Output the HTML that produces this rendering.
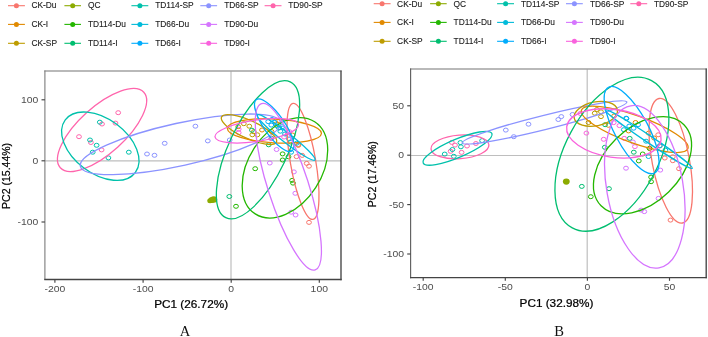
<!DOCTYPE html>
<html><head><meta charset="utf-8"><title>PCA</title>
<style>
html,body{margin:0;padding:0;background:#fff;}
body{width:708px;height:337px;overflow:hidden;font-family:"Liberation Sans",sans-serif;}
svg{display:block;will-change:transform;opacity:0.999;}
text{font-family:"Liberation Sans",sans-serif;}
.ser{font-family:"Liberation Serif",serif;}
</style></head><body>
<svg width="708" height="337" viewBox="0 0 708 337">
<rect width="708" height="337" fill="#ffffff"/>

<line x1="8.0" y1="5.7" x2="24.9" y2="5.7" stroke="#F8766D" stroke-width="1.1"/>
<circle cx="16.4" cy="5.7" r="2.5" fill="#F8766D"/>
<text x="31.4" y="8.4" font-size="8.4" fill="#1a1a1a" stroke="#1a1a1a" stroke-width="0.1">CK-Du</text>
<line x1="8.0" y1="24.4" x2="24.9" y2="24.4" stroke="#E18A00" stroke-width="1.1"/>
<circle cx="16.4" cy="24.4" r="2.5" fill="#E18A00"/>
<text x="31.4" y="27.1" font-size="8.4" fill="#1a1a1a" stroke="#1a1a1a" stroke-width="0.1">CK-I</text>
<line x1="8.0" y1="43.3" x2="24.9" y2="43.3" stroke="#BE9C00" stroke-width="1.1"/>
<circle cx="16.4" cy="43.3" r="2.5" fill="#BE9C00"/>
<text x="31.4" y="46.0" font-size="8.4" fill="#1a1a1a" stroke="#1a1a1a" stroke-width="0.1">CK-SP</text>
<line x1="64.4" y1="5.7" x2="81.0" y2="5.7" stroke="#8CAB00" stroke-width="1.1"/>
<circle cx="72.7" cy="5.7" r="2.5" fill="#8CAB00"/>
<text x="87.9" y="8.4" font-size="8.4" fill="#1a1a1a" stroke="#1a1a1a" stroke-width="0.1">QC</text>
<line x1="64.4" y1="24.4" x2="81.0" y2="24.4" stroke="#24B700" stroke-width="1.1"/>
<circle cx="72.7" cy="24.4" r="2.5" fill="#24B700"/>
<text x="87.9" y="27.1" font-size="8.4" fill="#1a1a1a" stroke="#1a1a1a" stroke-width="0.1">TD114-Du</text>
<line x1="64.4" y1="43.3" x2="81.0" y2="43.3" stroke="#00BE70" stroke-width="1.1"/>
<circle cx="72.7" cy="43.3" r="2.5" fill="#00BE70"/>
<text x="87.9" y="46.0" font-size="8.4" fill="#1a1a1a" stroke="#1a1a1a" stroke-width="0.1">TD114-I</text>
<line x1="131.4" y1="5.7" x2="148.3" y2="5.7" stroke="#00C1AB" stroke-width="1.1"/>
<circle cx="139.9" cy="5.7" r="2.5" fill="#00C1AB"/>
<text x="155.2" y="8.4" font-size="8.4" fill="#1a1a1a" stroke="#1a1a1a" stroke-width="0.1">TD114-SP</text>
<line x1="131.4" y1="24.4" x2="148.3" y2="24.4" stroke="#00BBDA" stroke-width="1.1"/>
<circle cx="139.9" cy="24.4" r="2.5" fill="#00BBDA"/>
<text x="155.2" y="27.1" font-size="8.4" fill="#1a1a1a" stroke="#1a1a1a" stroke-width="0.1">TD66-Du</text>
<line x1="131.4" y1="43.3" x2="148.3" y2="43.3" stroke="#00ACFC" stroke-width="1.1"/>
<circle cx="139.9" cy="43.3" r="2.5" fill="#00ACFC"/>
<text x="155.2" y="46.0" font-size="8.4" fill="#1a1a1a" stroke="#1a1a1a" stroke-width="0.1">TD66-I</text>
<line x1="200.3" y1="5.7" x2="217.1" y2="5.7" stroke="#8B93FF" stroke-width="1.1"/>
<circle cx="208.7" cy="5.7" r="2.5" fill="#8B93FF"/>
<text x="224.2" y="8.4" font-size="8.4" fill="#1a1a1a" stroke="#1a1a1a" stroke-width="0.1">TD66-SP</text>
<line x1="200.3" y1="24.4" x2="217.1" y2="24.4" stroke="#D575FE" stroke-width="1.1"/>
<circle cx="208.7" cy="24.4" r="2.5" fill="#D575FE"/>
<text x="224.2" y="27.1" font-size="8.4" fill="#1a1a1a" stroke="#1a1a1a" stroke-width="0.1">TD90-Du</text>
<line x1="200.3" y1="43.3" x2="217.1" y2="43.3" stroke="#F962DD" stroke-width="1.1"/>
<circle cx="208.7" cy="43.3" r="2.5" fill="#F962DD"/>
<text x="224.2" y="46.0" font-size="8.4" fill="#1a1a1a" stroke="#1a1a1a" stroke-width="0.1">TD90-I</text>
<line x1="264.6" y1="5.7" x2="281.5" y2="5.7" stroke="#FF65AC" stroke-width="1.1"/>
<circle cx="273.1" cy="5.7" r="2.5" fill="#FF65AC"/>
<text x="288.2" y="8.4" font-size="8.4" fill="#1a1a1a" stroke="#1a1a1a" stroke-width="0.1">TD90-SP</text>
<line x1="373.7" y1="3.7" x2="390.6" y2="3.7" stroke="#F8766D" stroke-width="1.1"/>
<circle cx="382.1" cy="3.7" r="2.5" fill="#F8766D"/>
<text x="397.1" y="6.8" font-size="8.4" fill="#1a1a1a" stroke="#1a1a1a" stroke-width="0.1">CK-Du</text>
<line x1="373.7" y1="22.4" x2="390.6" y2="22.4" stroke="#E18A00" stroke-width="1.1"/>
<circle cx="382.1" cy="22.4" r="2.5" fill="#E18A00"/>
<text x="397.1" y="25.4" font-size="8.4" fill="#1a1a1a" stroke="#1a1a1a" stroke-width="0.1">CK-I</text>
<line x1="373.7" y1="41.3" x2="390.6" y2="41.3" stroke="#BE9C00" stroke-width="1.1"/>
<circle cx="382.1" cy="41.3" r="2.5" fill="#BE9C00"/>
<text x="397.1" y="44.3" font-size="8.4" fill="#1a1a1a" stroke="#1a1a1a" stroke-width="0.1">CK-SP</text>
<line x1="430.1" y1="3.7" x2="446.7" y2="3.7" stroke="#8CAB00" stroke-width="1.1"/>
<circle cx="438.4" cy="3.7" r="2.5" fill="#8CAB00"/>
<text x="453.6" y="6.8" font-size="8.4" fill="#1a1a1a" stroke="#1a1a1a" stroke-width="0.1">QC</text>
<line x1="430.1" y1="22.4" x2="446.7" y2="22.4" stroke="#24B700" stroke-width="1.1"/>
<circle cx="438.4" cy="22.4" r="2.5" fill="#24B700"/>
<text x="453.6" y="25.4" font-size="8.4" fill="#1a1a1a" stroke="#1a1a1a" stroke-width="0.1">TD114-Du</text>
<line x1="430.1" y1="41.3" x2="446.7" y2="41.3" stroke="#00BE70" stroke-width="1.1"/>
<circle cx="438.4" cy="41.3" r="2.5" fill="#00BE70"/>
<text x="453.6" y="44.3" font-size="8.4" fill="#1a1a1a" stroke="#1a1a1a" stroke-width="0.1">TD114-I</text>
<line x1="497.1" y1="3.7" x2="514.0" y2="3.7" stroke="#00C1AB" stroke-width="1.1"/>
<circle cx="505.6" cy="3.7" r="2.5" fill="#00C1AB"/>
<text x="520.9" y="6.8" font-size="8.4" fill="#1a1a1a" stroke="#1a1a1a" stroke-width="0.1">TD114-SP</text>
<line x1="497.1" y1="22.4" x2="514.0" y2="22.4" stroke="#00BBDA" stroke-width="1.1"/>
<circle cx="505.6" cy="22.4" r="2.5" fill="#00BBDA"/>
<text x="520.9" y="25.4" font-size="8.4" fill="#1a1a1a" stroke="#1a1a1a" stroke-width="0.1">TD66-Du</text>
<line x1="497.1" y1="41.3" x2="514.0" y2="41.3" stroke="#00ACFC" stroke-width="1.1"/>
<circle cx="505.6" cy="41.3" r="2.5" fill="#00ACFC"/>
<text x="520.9" y="44.3" font-size="8.4" fill="#1a1a1a" stroke="#1a1a1a" stroke-width="0.1">TD66-I</text>
<line x1="566.0" y1="3.7" x2="582.8" y2="3.7" stroke="#8B93FF" stroke-width="1.1"/>
<circle cx="574.4" cy="3.7" r="2.5" fill="#8B93FF"/>
<text x="589.9" y="6.8" font-size="8.4" fill="#1a1a1a" stroke="#1a1a1a" stroke-width="0.1">TD66-SP</text>
<line x1="566.0" y1="22.4" x2="582.8" y2="22.4" stroke="#D575FE" stroke-width="1.1"/>
<circle cx="574.4" cy="22.4" r="2.5" fill="#D575FE"/>
<text x="589.9" y="25.4" font-size="8.4" fill="#1a1a1a" stroke="#1a1a1a" stroke-width="0.1">TD90-Du</text>
<line x1="566.0" y1="41.3" x2="582.8" y2="41.3" stroke="#F962DD" stroke-width="1.1"/>
<circle cx="574.4" cy="41.3" r="2.5" fill="#F962DD"/>
<text x="589.9" y="44.3" font-size="8.4" fill="#1a1a1a" stroke="#1a1a1a" stroke-width="0.1">TD90-I</text>
<line x1="630.3" y1="3.7" x2="647.2" y2="3.7" stroke="#FF65AC" stroke-width="1.1"/>
<circle cx="638.8" cy="3.7" r="2.5" fill="#FF65AC"/>
<text x="653.9" y="6.8" font-size="8.4" fill="#1a1a1a" stroke="#1a1a1a" stroke-width="0.1">TD90-SP</text>
<clipPath id="clipA"><rect x="44.9" y="71.0" width="296.1" height="208.5"/></clipPath>
<g clip-path="url(#clipA)">
<line x1="44.9" y1="160.9" x2="341.0" y2="160.9" stroke="#bebebe" stroke-width="1.2"/>
<line x1="231.0" y1="71.0" x2="231.0" y2="279.5" stroke="#bebebe" stroke-width="1.2"/>
<ellipse cx="118.2" cy="112.7" rx="2.4" ry="2.0" fill="none" stroke="#FF65AC" stroke-width="1.0"/>
<ellipse cx="115.5" cy="123.1" rx="2.4" ry="2.0" fill="none" stroke="#FF65AC" stroke-width="1.0"/>
<ellipse cx="102.0" cy="124.0" rx="2.4" ry="2.0" fill="none" stroke="#FF65AC" stroke-width="1.0"/>
<ellipse cx="79.0" cy="136.7" rx="2.4" ry="2.0" fill="none" stroke="#FF65AC" stroke-width="1.0"/>
<ellipse cx="90.9" cy="142.5" rx="2.4" ry="2.0" fill="none" stroke="#FF65AC" stroke-width="1.0"/>
<ellipse cx="101.6" cy="149.9" rx="2.4" ry="2.0" fill="none" stroke="#FF65AC" stroke-width="1.0"/>
<ellipse cx="99.8" cy="122.2" rx="2.4" ry="2.0" fill="none" stroke="#00C1AB" stroke-width="1.0"/>
<ellipse cx="90.0" cy="140.0" rx="2.4" ry="2.0" fill="none" stroke="#00C1AB" stroke-width="1.0"/>
<ellipse cx="96.6" cy="145.3" rx="2.4" ry="2.0" fill="none" stroke="#00C1AB" stroke-width="1.0"/>
<ellipse cx="92.7" cy="152.2" rx="2.4" ry="2.0" fill="none" stroke="#00C1AB" stroke-width="1.0"/>
<ellipse cx="108.4" cy="157.9" rx="2.4" ry="2.0" fill="none" stroke="#00C1AB" stroke-width="1.0"/>
<ellipse cx="128.8" cy="152.2" rx="2.4" ry="2.0" fill="none" stroke="#00C1AB" stroke-width="1.0"/>
<ellipse cx="147.0" cy="154.0" rx="2.4" ry="2.0" fill="none" stroke="#8B93FF" stroke-width="1.0"/>
<ellipse cx="154.5" cy="155.3" rx="2.4" ry="2.0" fill="none" stroke="#8B93FF" stroke-width="1.0"/>
<ellipse cx="164.7" cy="143.3" rx="2.4" ry="2.0" fill="none" stroke="#8B93FF" stroke-width="1.0"/>
<ellipse cx="195.4" cy="126.2" rx="2.4" ry="2.0" fill="none" stroke="#8B93FF" stroke-width="1.0"/>
<ellipse cx="207.8" cy="140.9" rx="2.4" ry="2.0" fill="none" stroke="#8B93FF" stroke-width="1.0"/>
<ellipse cx="229.7" cy="140.0" rx="2.4" ry="2.0" fill="none" stroke="#8B93FF" stroke-width="1.0"/>
<ellipse cx="238.2" cy="126.7" rx="2.4" ry="2.0" fill="none" stroke="#BE9C00" stroke-width="1.0"/>
<ellipse cx="243.8" cy="123.7" rx="2.4" ry="2.0" fill="none" stroke="#BE9C00" stroke-width="1.0"/>
<ellipse cx="249.3" cy="126.2" rx="2.4" ry="2.0" fill="none" stroke="#BE9C00" stroke-width="1.0"/>
<ellipse cx="253.8" cy="131.7" rx="2.4" ry="2.0" fill="none" stroke="#BE9C00" stroke-width="1.0"/>
<ellipse cx="252.3" cy="134.8" rx="2.4" ry="2.0" fill="none" stroke="#BE9C00" stroke-width="1.0"/>
<ellipse cx="257.4" cy="134.8" rx="2.4" ry="2.0" fill="none" stroke="#BE9C00" stroke-width="1.0"/>
<ellipse cx="262.0" cy="130.0" rx="2.4" ry="2.0" fill="none" stroke="#E18A00" stroke-width="1.0"/>
<ellipse cx="271.5" cy="131.5" rx="2.4" ry="2.0" fill="none" stroke="#E18A00" stroke-width="1.0"/>
<ellipse cx="279.3" cy="120.6" rx="2.4" ry="2.0" fill="none" stroke="#E18A00" stroke-width="1.0"/>
<ellipse cx="292.5" cy="135.0" rx="2.4" ry="2.0" fill="none" stroke="#E18A00" stroke-width="1.0"/>
<ellipse cx="298.3" cy="145.3" rx="2.4" ry="2.0" fill="none" stroke="#E18A00" stroke-width="1.0"/>
<ellipse cx="276.0" cy="124.0" rx="2.4" ry="2.0" fill="none" stroke="#E18A00" stroke-width="1.0"/>
<ellipse cx="306.7" cy="163.4" rx="2.4" ry="2.0" fill="none" stroke="#F8766D" stroke-width="1.0"/>
<ellipse cx="309.0" cy="166.2" rx="2.4" ry="2.0" fill="none" stroke="#F8766D" stroke-width="1.0"/>
<ellipse cx="309.0" cy="222.4" rx="2.4" ry="2.0" fill="none" stroke="#F8766D" stroke-width="1.0"/>
<ellipse cx="298.0" cy="144.8" rx="2.4" ry="2.0" fill="none" stroke="#F8766D" stroke-width="1.0"/>
<ellipse cx="296.5" cy="156.6" rx="2.4" ry="2.0" fill="none" stroke="#F8766D" stroke-width="1.0"/>
<ellipse cx="302.2" cy="155.4" rx="2.4" ry="2.0" fill="none" stroke="#F8766D" stroke-width="1.0"/>
<ellipse cx="255.2" cy="168.7" rx="2.4" ry="2.0" fill="none" stroke="#24B700" stroke-width="1.0"/>
<ellipse cx="236.0" cy="206.3" rx="2.4" ry="2.0" fill="none" stroke="#24B700" stroke-width="1.0"/>
<ellipse cx="282.6" cy="160.0" rx="2.4" ry="2.0" fill="none" stroke="#24B700" stroke-width="1.0"/>
<ellipse cx="288.5" cy="156.8" rx="2.4" ry="2.0" fill="none" stroke="#24B700" stroke-width="1.0"/>
<ellipse cx="292.1" cy="180.4" rx="2.4" ry="2.0" fill="none" stroke="#24B700" stroke-width="1.0"/>
<ellipse cx="293.0" cy="183.1" rx="2.4" ry="2.0" fill="none" stroke="#24B700" stroke-width="1.0"/>
<ellipse cx="282.6" cy="153.9" rx="2.4" ry="2.0" fill="none" stroke="#24B700" stroke-width="1.0"/>
<ellipse cx="229.3" cy="196.5" rx="2.4" ry="2.0" fill="none" stroke="#00BE70" stroke-width="1.0"/>
<ellipse cx="251.9" cy="130.2" rx="2.4" ry="2.0" fill="none" stroke="#00BE70" stroke-width="1.0"/>
<ellipse cx="271.5" cy="138.2" rx="2.4" ry="2.0" fill="none" stroke="#00BE70" stroke-width="1.0"/>
<ellipse cx="268.7" cy="144.8" rx="2.4" ry="2.0" fill="none" stroke="#00BE70" stroke-width="1.0"/>
<ellipse cx="290.5" cy="142.0" rx="2.4" ry="2.0" fill="none" stroke="#00BE70" stroke-width="1.0"/>
<ellipse cx="279.0" cy="128.0" rx="2.4" ry="2.0" fill="none" stroke="#00BE70" stroke-width="1.0"/>
<ellipse cx="269.8" cy="163.0" rx="2.4" ry="2.0" fill="none" stroke="#D575FE" stroke-width="1.0"/>
<ellipse cx="293.9" cy="171.9" rx="2.4" ry="2.0" fill="none" stroke="#D575FE" stroke-width="1.0"/>
<ellipse cx="295.3" cy="193.3" rx="2.4" ry="2.0" fill="none" stroke="#D575FE" stroke-width="1.0"/>
<ellipse cx="291.2" cy="212.2" rx="2.4" ry="2.0" fill="none" stroke="#D575FE" stroke-width="1.0"/>
<ellipse cx="295.6" cy="215.0" rx="2.4" ry="2.0" fill="none" stroke="#D575FE" stroke-width="1.0"/>
<ellipse cx="276.6" cy="149.5" rx="2.4" ry="2.0" fill="none" stroke="#D575FE" stroke-width="1.0"/>
<ellipse cx="238.7" cy="129.2" rx="2.4" ry="2.0" fill="none" stroke="#F962DD" stroke-width="1.0"/>
<ellipse cx="238.7" cy="132.7" rx="2.4" ry="2.0" fill="none" stroke="#F962DD" stroke-width="1.0"/>
<ellipse cx="284.1" cy="137.0" rx="2.4" ry="2.0" fill="none" stroke="#F962DD" stroke-width="1.0"/>
<ellipse cx="287.6" cy="132.6" rx="2.4" ry="2.0" fill="none" stroke="#F962DD" stroke-width="1.0"/>
<ellipse cx="271.3" cy="138.7" rx="2.4" ry="2.0" fill="none" stroke="#F962DD" stroke-width="1.0"/>
<ellipse cx="289.4" cy="131.7" rx="2.4" ry="2.0" fill="none" stroke="#F962DD" stroke-width="1.0"/>
<ellipse cx="280.3" cy="131.2" rx="2.4" ry="2.0" fill="none" stroke="#00BBDA" stroke-width="1.0"/>
<ellipse cx="282.4" cy="126.6" rx="2.4" ry="2.0" fill="none" stroke="#00BBDA" stroke-width="1.0"/>
<ellipse cx="291.2" cy="152.2" rx="2.4" ry="2.0" fill="none" stroke="#00BBDA" stroke-width="1.0"/>
<ellipse cx="296.5" cy="143.3" rx="2.4" ry="2.0" fill="none" stroke="#00BBDA" stroke-width="1.0"/>
<ellipse cx="285.0" cy="134.0" rx="2.4" ry="2.0" fill="none" stroke="#00BBDA" stroke-width="1.0"/>
<ellipse cx="289.0" cy="139.0" rx="2.4" ry="2.0" fill="none" stroke="#00BBDA" stroke-width="1.0"/>
<ellipse cx="268.2" cy="121.6" rx="2.4" ry="2.0" fill="none" stroke="#00ACFC" stroke-width="1.0"/>
<ellipse cx="271.3" cy="125.1" rx="2.4" ry="2.0" fill="none" stroke="#00ACFC" stroke-width="1.0"/>
<ellipse cx="274.3" cy="122.1" rx="2.4" ry="2.0" fill="none" stroke="#00ACFC" stroke-width="1.0"/>
<ellipse cx="277.0" cy="126.0" rx="2.4" ry="2.0" fill="none" stroke="#00ACFC" stroke-width="1.0"/>
<ellipse cx="272.0" cy="119.5" rx="2.4" ry="2.0" fill="none" stroke="#00ACFC" stroke-width="1.0"/>
<ellipse cx="283.0" cy="128.0" rx="2.4" ry="2.0" fill="none" stroke="#00ACFC" stroke-width="1.0"/>
<ellipse cx="210.0" cy="200.7" rx="2.75" ry="2.50" fill="#8CAB00"/>
<ellipse cx="211.8" cy="200.0" rx="3.30" ry="3.00" fill="#8CAB00"/>
<ellipse cx="213.7" cy="199.5" rx="3.52" ry="3.20" fill="#8CAB00"/>
<ellipse cx="102.05" cy="130.00" rx="56.29" ry="23.19" transform="rotate(-42.14 102.05 130.00)" fill="none" stroke="#FF65AC" stroke-width="1.3"/>
<ellipse cx="100.30" cy="146.20" rx="43.83" ry="27.32" transform="rotate(36.89 100.30 146.20)" fill="none" stroke="#00C1AB" stroke-width="1.3"/>
<ellipse cx="180.50" cy="144.30" rx="102.50" ry="21.30" transform="rotate(-12.40 180.50 144.30)" fill="none" stroke="#8B93FF" stroke-width="1.3"/>
<ellipse cx="249.00" cy="129.55" rx="30.19" ry="8.90" transform="rotate(24.60 249.00 129.55)" fill="none" stroke="#BE9C00" stroke-width="1.3"/>
<ellipse cx="274.40" cy="130.90" rx="47.10" ry="11.90" transform="rotate(3.20 274.40 130.90)" fill="none" stroke="#E18A00" stroke-width="1.3"/>
<ellipse cx="303.00" cy="161.40" rx="58.82" ry="12.67" transform="rotate(80.21 303.00 161.40)" fill="none" stroke="#F8766D" stroke-width="1.3"/>
<ellipse cx="284.95" cy="167.85" rx="54.82" ry="36.57" transform="rotate(-57.17 284.95 167.85)" fill="none" stroke="#24B700" stroke-width="1.3"/>
<ellipse cx="258.00" cy="149.80" rx="75.10" ry="29.20" transform="rotate(-64.60 258.00 149.80)" fill="none" stroke="#00BE70" stroke-width="1.3"/>
<ellipse cx="286.20" cy="137.50" rx="36.50" ry="4.70" transform="rotate(38.00 286.20 137.50)" fill="none" stroke="#00BBDA" stroke-width="1.3"/>
<ellipse cx="274.20" cy="125.20" rx="31.23" ry="10.23" transform="rotate(55.20 274.20 125.20)" fill="none" stroke="#00ACFC" stroke-width="1.3"/>
<ellipse cx="288.35" cy="186.75" rx="87.34" ry="20.28" transform="rotate(72.11 288.35 186.75)" fill="none" stroke="#D575FE" stroke-width="1.3"/>
<ellipse cx="256.75" cy="130.75" rx="42.19" ry="10.64" transform="rotate(-8.55 256.75 130.75)" fill="none" stroke="#F962DD" stroke-width="1.3"/>
</g>
<line x1="44.3" y1="71.0" x2="341.6" y2="71.0" stroke="#a2a2a2" stroke-width="1.3"/>
<line x1="44.9" y1="70.5" x2="44.9" y2="280.1" stroke="#808080" stroke-width="1.15"/>
<line x1="341.0" y1="70.4" x2="341.0" y2="280.15" stroke="#444" stroke-width="1.35"/>
<line x1="44.3" y1="279.5" x2="341.65" y2="279.5" stroke="#444" stroke-width="1.3"/>
<line x1="54.9" y1="279.5" x2="54.9" y2="282.7" stroke="#444" stroke-width="1.15"/>
<text x="54.9" y="291.9" font-size="8.9" fill="#4d4d4d" text-anchor="middle" transform="translate(54.9 0) scale(1.17 1) translate(-54.9 0)">-200</text>
<line x1="143.1" y1="279.5" x2="143.1" y2="282.7" stroke="#444" stroke-width="1.15"/>
<text x="143.1" y="291.9" font-size="8.9" fill="#4d4d4d" text-anchor="middle" transform="translate(143.1 0) scale(1.17 1) translate(-143.1 0)">-100</text>
<line x1="231.2" y1="279.5" x2="231.2" y2="282.7" stroke="#444" stroke-width="1.15"/>
<text x="231.2" y="291.9" font-size="8.9" fill="#4d4d4d" text-anchor="middle" transform="translate(231.2 0) scale(1.17 1) translate(-231.2 0)">0</text>
<line x1="319.3" y1="279.5" x2="319.3" y2="282.7" stroke="#444" stroke-width="1.15"/>
<text x="319.3" y="291.9" font-size="8.9" fill="#4d4d4d" text-anchor="middle" transform="translate(319.3 0) scale(1.17 1) translate(-319.3 0)">100</text>
<line x1="41.5" y1="99.8" x2="44.9" y2="99.8" stroke="#444" stroke-width="1.15"/>
<text x="38.3" y="102.89999999999999" font-size="8.9" fill="#4d4d4d" text-anchor="end" transform="translate(38.3 0) scale(1.17 1) translate(-38.3 0)">100</text>
<line x1="41.5" y1="160.8" x2="44.9" y2="160.8" stroke="#444" stroke-width="1.15"/>
<text x="38.3" y="163.9" font-size="8.9" fill="#4d4d4d" text-anchor="end" transform="translate(38.3 0) scale(1.17 1) translate(-38.3 0)">0</text>
<line x1="41.5" y1="222.0" x2="44.9" y2="222.0" stroke="#444" stroke-width="1.15"/>
<text x="38.3" y="225.1" font-size="8.9" fill="#4d4d4d" text-anchor="end" transform="translate(38.3 0) scale(1.17 1) translate(-38.3 0)">-100</text>
<text x="154.2" y="307.9" font-size="10.3" fill="#000" stroke="#000" stroke-width="0.22" textLength="73.9" lengthAdjust="spacingAndGlyphs">PC1 (26.72%)</text>
<text x="0" y="0" font-size="10.3" fill="#000" stroke="#000" stroke-width="0.22" textLength="66.0" lengthAdjust="spacingAndGlyphs" transform="translate(9.8 208.9) rotate(-90)">PC2 (15.44%)</text>
<text class="ser" x="185" y="335.9" font-size="14.6" fill="#111" text-anchor="middle">A</text>
<clipPath id="clipB"><rect x="410.6" y="69.0" width="295.6" height="208.60000000000002"/></clipPath>
<g clip-path="url(#clipB)">
<line x1="410.6" y1="155.5" x2="706.2" y2="155.5" stroke="#bebebe" stroke-width="1.2"/>
<line x1="587.2" y1="69.0" x2="587.2" y2="277.6" stroke="#bebebe" stroke-width="1.2"/>
<ellipse cx="451.8" cy="142.4" rx="2.4" ry="2.0" fill="none" stroke="#FF65AC" stroke-width="1.0"/>
<ellipse cx="455.0" cy="145.1" rx="2.4" ry="2.0" fill="none" stroke="#FF65AC" stroke-width="1.0"/>
<ellipse cx="467.0" cy="146.0" rx="2.4" ry="2.0" fill="none" stroke="#FF65AC" stroke-width="1.0"/>
<ellipse cx="475.9" cy="143.5" rx="2.4" ry="2.0" fill="none" stroke="#FF65AC" stroke-width="1.0"/>
<ellipse cx="461.6" cy="152.4" rx="2.4" ry="2.0" fill="none" stroke="#FF65AC" stroke-width="1.0"/>
<ellipse cx="450.6" cy="151.3" rx="2.4" ry="2.0" fill="none" stroke="#FF65AC" stroke-width="1.0"/>
<ellipse cx="460.4" cy="142.6" rx="2.4" ry="2.0" fill="none" stroke="#00C1AB" stroke-width="1.0"/>
<ellipse cx="460.9" cy="146.8" rx="2.4" ry="2.0" fill="none" stroke="#00C1AB" stroke-width="1.0"/>
<ellipse cx="452.4" cy="149.5" rx="2.4" ry="2.0" fill="none" stroke="#00C1AB" stroke-width="1.0"/>
<ellipse cx="444.7" cy="154.1" rx="2.4" ry="2.0" fill="none" stroke="#00C1AB" stroke-width="1.0"/>
<ellipse cx="453.8" cy="156.3" rx="2.4" ry="2.0" fill="none" stroke="#00C1AB" stroke-width="1.0"/>
<ellipse cx="482.1" cy="140.6" rx="2.4" ry="2.0" fill="none" stroke="#00C1AB" stroke-width="1.0"/>
<ellipse cx="505.8" cy="130.1" rx="2.4" ry="2.0" fill="none" stroke="#8B93FF" stroke-width="1.0"/>
<ellipse cx="513.8" cy="136.7" rx="2.4" ry="2.0" fill="none" stroke="#8B93FF" stroke-width="1.0"/>
<ellipse cx="528.5" cy="124.2" rx="2.4" ry="2.0" fill="none" stroke="#8B93FF" stroke-width="1.0"/>
<ellipse cx="558.3" cy="119.5" rx="2.4" ry="2.0" fill="none" stroke="#8B93FF" stroke-width="1.0"/>
<ellipse cx="561.3" cy="116.6" rx="2.4" ry="2.0" fill="none" stroke="#8B93FF" stroke-width="1.0"/>
<ellipse cx="572.5" cy="114.5" rx="2.4" ry="2.0" fill="none" stroke="#8B93FF" stroke-width="1.0"/>
<ellipse cx="596.9" cy="109.5" rx="2.4" ry="2.0" fill="none" stroke="#BE9C00" stroke-width="1.0"/>
<ellipse cx="594.7" cy="113.2" rx="2.4" ry="2.0" fill="none" stroke="#BE9C00" stroke-width="1.0"/>
<ellipse cx="601.0" cy="111.8" rx="2.4" ry="2.0" fill="none" stroke="#BE9C00" stroke-width="1.0"/>
<ellipse cx="601.0" cy="116.6" rx="2.4" ry="2.0" fill="none" stroke="#BE9C00" stroke-width="1.0"/>
<ellipse cx="588.5" cy="122.5" rx="2.4" ry="2.0" fill="none" stroke="#BE9C00" stroke-width="1.0"/>
<ellipse cx="608.5" cy="125.3" rx="2.4" ry="2.0" fill="none" stroke="#E18A00" stroke-width="1.0"/>
<ellipse cx="614.1" cy="116.0" rx="2.4" ry="2.0" fill="none" stroke="#E18A00" stroke-width="1.0"/>
<ellipse cx="635.5" cy="122.5" rx="2.4" ry="2.0" fill="none" stroke="#E18A00" stroke-width="1.0"/>
<ellipse cx="628.6" cy="130.9" rx="2.4" ry="2.0" fill="none" stroke="#E18A00" stroke-width="1.0"/>
<ellipse cx="648.7" cy="133.1" rx="2.4" ry="2.0" fill="none" stroke="#E18A00" stroke-width="1.0"/>
<ellipse cx="654.1" cy="138.0" rx="2.4" ry="2.0" fill="none" stroke="#E18A00" stroke-width="1.0"/>
<ellipse cx="649.6" cy="148.4" rx="2.4" ry="2.0" fill="none" stroke="#E18A00" stroke-width="1.0"/>
<ellipse cx="658.2" cy="134.8" rx="2.4" ry="2.0" fill="none" stroke="#F8766D" stroke-width="1.0"/>
<ellipse cx="659.8" cy="146.0" rx="2.4" ry="2.0" fill="none" stroke="#F8766D" stroke-width="1.0"/>
<ellipse cx="664.8" cy="158.0" rx="2.4" ry="2.0" fill="none" stroke="#F8766D" stroke-width="1.0"/>
<ellipse cx="672.8" cy="156.8" rx="2.4" ry="2.0" fill="none" stroke="#F8766D" stroke-width="1.0"/>
<ellipse cx="672.8" cy="160.7" rx="2.4" ry="2.0" fill="none" stroke="#F8766D" stroke-width="1.0"/>
<ellipse cx="679.0" cy="168.7" rx="2.4" ry="2.0" fill="none" stroke="#F8766D" stroke-width="1.0"/>
<ellipse cx="670.5" cy="220.1" rx="2.4" ry="2.0" fill="none" stroke="#F8766D" stroke-width="1.0"/>
<ellipse cx="649.6" cy="148.4" rx="2.4" ry="2.0" fill="none" stroke="#24B700" stroke-width="1.0"/>
<ellipse cx="638.8" cy="160.9" rx="2.4" ry="2.0" fill="none" stroke="#24B700" stroke-width="1.0"/>
<ellipse cx="642.7" cy="154.0" rx="2.4" ry="2.0" fill="none" stroke="#24B700" stroke-width="1.0"/>
<ellipse cx="651.1" cy="177.1" rx="2.4" ry="2.0" fill="none" stroke="#24B700" stroke-width="1.0"/>
<ellipse cx="651.1" cy="181.7" rx="2.4" ry="2.0" fill="none" stroke="#24B700" stroke-width="1.0"/>
<ellipse cx="590.8" cy="196.7" rx="2.4" ry="2.0" fill="none" stroke="#24B700" stroke-width="1.0"/>
<ellipse cx="605.1" cy="124.7" rx="2.4" ry="2.0" fill="none" stroke="#00BE70" stroke-width="1.0"/>
<ellipse cx="604.8" cy="147.3" rx="2.4" ry="2.0" fill="none" stroke="#00BE70" stroke-width="1.0"/>
<ellipse cx="629.7" cy="138.4" rx="2.4" ry="2.0" fill="none" stroke="#00BE70" stroke-width="1.0"/>
<ellipse cx="633.8" cy="152.2" rx="2.4" ry="2.0" fill="none" stroke="#00BE70" stroke-width="1.0"/>
<ellipse cx="581.8" cy="186.4" rx="2.4" ry="2.0" fill="none" stroke="#00BE70" stroke-width="1.0"/>
<ellipse cx="609.0" cy="188.7" rx="2.4" ry="2.0" fill="none" stroke="#00BE70" stroke-width="1.0"/>
<ellipse cx="632.9" cy="142.0" rx="2.4" ry="2.0" fill="none" stroke="#D575FE" stroke-width="1.0"/>
<ellipse cx="626.0" cy="168.2" rx="2.4" ry="2.0" fill="none" stroke="#D575FE" stroke-width="1.0"/>
<ellipse cx="660.3" cy="170.1" rx="2.4" ry="2.0" fill="none" stroke="#D575FE" stroke-width="1.0"/>
<ellipse cx="658.5" cy="198.4" rx="2.4" ry="2.0" fill="none" stroke="#D575FE" stroke-width="1.0"/>
<ellipse cx="641.1" cy="210.1" rx="2.4" ry="2.0" fill="none" stroke="#D575FE" stroke-width="1.0"/>
<ellipse cx="644.3" cy="211.6" rx="2.4" ry="2.0" fill="none" stroke="#D575FE" stroke-width="1.0"/>
<ellipse cx="580.3" cy="113.5" rx="2.4" ry="2.0" fill="none" stroke="#F962DD" stroke-width="1.0"/>
<ellipse cx="586.4" cy="133.1" rx="2.4" ry="2.0" fill="none" stroke="#F962DD" stroke-width="1.0"/>
<ellipse cx="603.7" cy="139.3" rx="2.4" ry="2.0" fill="none" stroke="#F962DD" stroke-width="1.0"/>
<ellipse cx="613.7" cy="122.6" rx="2.4" ry="2.0" fill="none" stroke="#F962DD" stroke-width="1.0"/>
<ellipse cx="619.4" cy="125.6" rx="2.4" ry="2.0" fill="none" stroke="#F962DD" stroke-width="1.0"/>
<ellipse cx="624.2" cy="138.4" rx="2.4" ry="2.0" fill="none" stroke="#F962DD" stroke-width="1.0"/>
<ellipse cx="634.9" cy="146.6" rx="2.4" ry="2.0" fill="none" stroke="#F962DD" stroke-width="1.0"/>
<ellipse cx="626.5" cy="118.5" rx="2.4" ry="2.0" fill="none" stroke="#00BBDA" stroke-width="1.0"/>
<ellipse cx="623.8" cy="129.7" rx="2.4" ry="2.0" fill="none" stroke="#00BBDA" stroke-width="1.0"/>
<ellipse cx="646.1" cy="141.2" rx="2.4" ry="2.0" fill="none" stroke="#00BBDA" stroke-width="1.0"/>
<ellipse cx="648.5" cy="156.5" rx="2.4" ry="2.0" fill="none" stroke="#00BBDA" stroke-width="1.0"/>
<ellipse cx="659.8" cy="145.7" rx="2.4" ry="2.0" fill="none" stroke="#00BBDA" stroke-width="1.0"/>
<ellipse cx="665.4" cy="150.2" rx="2.4" ry="2.0" fill="none" stroke="#00BBDA" stroke-width="1.0"/>
<ellipse cx="629.2" cy="126.1" rx="2.4" ry="2.0" fill="none" stroke="#00ACFC" stroke-width="1.0"/>
<ellipse cx="633.6" cy="128.2" rx="2.4" ry="2.0" fill="none" stroke="#00ACFC" stroke-width="1.0"/>
<ellipse cx="638.1" cy="124.7" rx="2.4" ry="2.0" fill="none" stroke="#00ACFC" stroke-width="1.0"/>
<ellipse cx="626.2" cy="118.2" rx="2.4" ry="2.0" fill="none" stroke="#00ACFC" stroke-width="1.0"/>
<ellipse cx="566.3" cy="181.6" rx="3.41" ry="3.10" fill="#8CAB00"/>
<ellipse cx="459.95" cy="146.90" rx="29.01" ry="11.85" transform="rotate(-4.10 459.95 146.90)" fill="none" stroke="#FF65AC" stroke-width="1.3"/>
<ellipse cx="457.55" cy="148.30" rx="37.37" ry="9.09" transform="rotate(-23.15 457.55 148.30)" fill="none" stroke="#00C1AB" stroke-width="1.3"/>
<ellipse cx="544.50" cy="122.45" rx="84.80" ry="7.10" transform="rotate(-13.95 544.50 122.45)" fill="none" stroke="#8B93FF" stroke-width="1.3"/>
<ellipse cx="595.80" cy="113.90" rx="22.00" ry="11.90" transform="rotate(-11.30 595.80 113.90)" fill="none" stroke="#BE9C00" stroke-width="1.3"/>
<ellipse cx="634.70" cy="129.30" rx="56.60" ry="13.70" transform="rotate(19.90 634.70 129.30)" fill="none" stroke="#E18A00" stroke-width="1.3"/>
<ellipse cx="670.75" cy="160.75" rx="63.35" ry="18.64" transform="rotate(79.33 670.75 160.75)" fill="none" stroke="#F8766D" stroke-width="1.3"/>
<ellipse cx="642.50" cy="165.25" rx="57.96" ry="37.40" transform="rotate(-44.36 642.50 165.25)" fill="none" stroke="#24B700" stroke-width="1.3"/>
<ellipse cx="611.90" cy="154.20" rx="83.60" ry="46.50" transform="rotate(-61.70 611.90 154.20)" fill="none" stroke="#00BE70" stroke-width="1.3"/>
<ellipse cx="648.70" cy="139.00" rx="52.60" ry="3.50" transform="rotate(33.90 648.70 139.00)" fill="none" stroke="#00BBDA" stroke-width="1.3"/>
<ellipse cx="631.60" cy="130.10" rx="48.67" ry="16.82" transform="rotate(61.73 631.60 130.10)" fill="none" stroke="#00ACFC" stroke-width="1.3"/>
<ellipse cx="644.80" cy="186.80" rx="82.26" ry="38.19" transform="rotate(80.09 644.80 186.80)" fill="none" stroke="#D575FE" stroke-width="1.3"/>
<ellipse cx="613.90" cy="133.40" rx="47.66" ry="23.89" transform="rotate(8.19 613.90 133.40)" fill="none" stroke="#F962DD" stroke-width="1.3"/>
</g>
<line x1="410.0" y1="69.0" x2="706.8000000000001" y2="69.0" stroke="#a2a2a2" stroke-width="1.3"/>
<line x1="410.6" y1="68.5" x2="410.6" y2="278.20000000000005" stroke="#606060" stroke-width="1.15"/>
<line x1="706.2" y1="68.4" x2="706.2" y2="278.25" stroke="#444" stroke-width="1.35"/>
<line x1="410.0" y1="277.6" x2="706.85" y2="277.6" stroke="#444" stroke-width="1.3"/>
<line x1="423.2" y1="277.6" x2="423.2" y2="280.8" stroke="#444" stroke-width="1.15"/>
<text x="423.2" y="290.0" font-size="8.9" fill="#4d4d4d" text-anchor="middle" transform="translate(423.2 0) scale(1.17 1) translate(-423.2 0)">-100</text>
<line x1="505.3" y1="277.6" x2="505.3" y2="280.8" stroke="#444" stroke-width="1.15"/>
<text x="505.3" y="290.0" font-size="8.9" fill="#4d4d4d" text-anchor="middle" transform="translate(505.3 0) scale(1.17 1) translate(-505.3 0)">-50</text>
<line x1="587.4" y1="277.6" x2="587.4" y2="280.8" stroke="#444" stroke-width="1.15"/>
<text x="587.4" y="290.0" font-size="8.9" fill="#4d4d4d" text-anchor="middle" transform="translate(587.4 0) scale(1.17 1) translate(-587.4 0)">0</text>
<line x1="669.5" y1="277.6" x2="669.5" y2="280.8" stroke="#444" stroke-width="1.15"/>
<text x="669.5" y="290.0" font-size="8.9" fill="#4d4d4d" text-anchor="middle" transform="translate(669.5 0) scale(1.17 1) translate(-669.5 0)">50</text>
<line x1="407.20000000000005" y1="105.8" x2="410.6" y2="105.8" stroke="#444" stroke-width="1.15"/>
<text x="404.0" y="108.89999999999999" font-size="8.9" fill="#4d4d4d" text-anchor="end" transform="translate(404.0 0) scale(1.17 1) translate(-404.0 0)">50</text>
<line x1="407.20000000000005" y1="155.2" x2="410.6" y2="155.2" stroke="#444" stroke-width="1.15"/>
<text x="404.0" y="158.29999999999998" font-size="8.9" fill="#4d4d4d" text-anchor="end" transform="translate(404.0 0) scale(1.17 1) translate(-404.0 0)">0</text>
<line x1="407.20000000000005" y1="204.6" x2="410.6" y2="204.6" stroke="#444" stroke-width="1.15"/>
<text x="404.0" y="207.7" font-size="8.9" fill="#4d4d4d" text-anchor="end" transform="translate(404.0 0) scale(1.17 1) translate(-404.0 0)">-50</text>
<line x1="407.20000000000005" y1="254.0" x2="410.6" y2="254.0" stroke="#444" stroke-width="1.15"/>
<text x="404.0" y="257.1" font-size="8.9" fill="#4d4d4d" text-anchor="end" transform="translate(404.0 0) scale(1.17 1) translate(-404.0 0)">-100</text>
<text x="519.6" y="306.6" font-size="10.3" fill="#000" stroke="#000" stroke-width="0.22" textLength="73.8" lengthAdjust="spacingAndGlyphs">PC1 (32.98%)</text>
<text x="0" y="0" font-size="10.3" fill="#000" stroke="#000" stroke-width="0.22" textLength="66.0" lengthAdjust="spacingAndGlyphs" transform="translate(375.5 207.2) rotate(-90)">PC2 (17.46%)</text>
<text class="ser" x="559.2" y="335.9" font-size="14.6" fill="#111" text-anchor="middle">B</text>
</svg></body></html>
